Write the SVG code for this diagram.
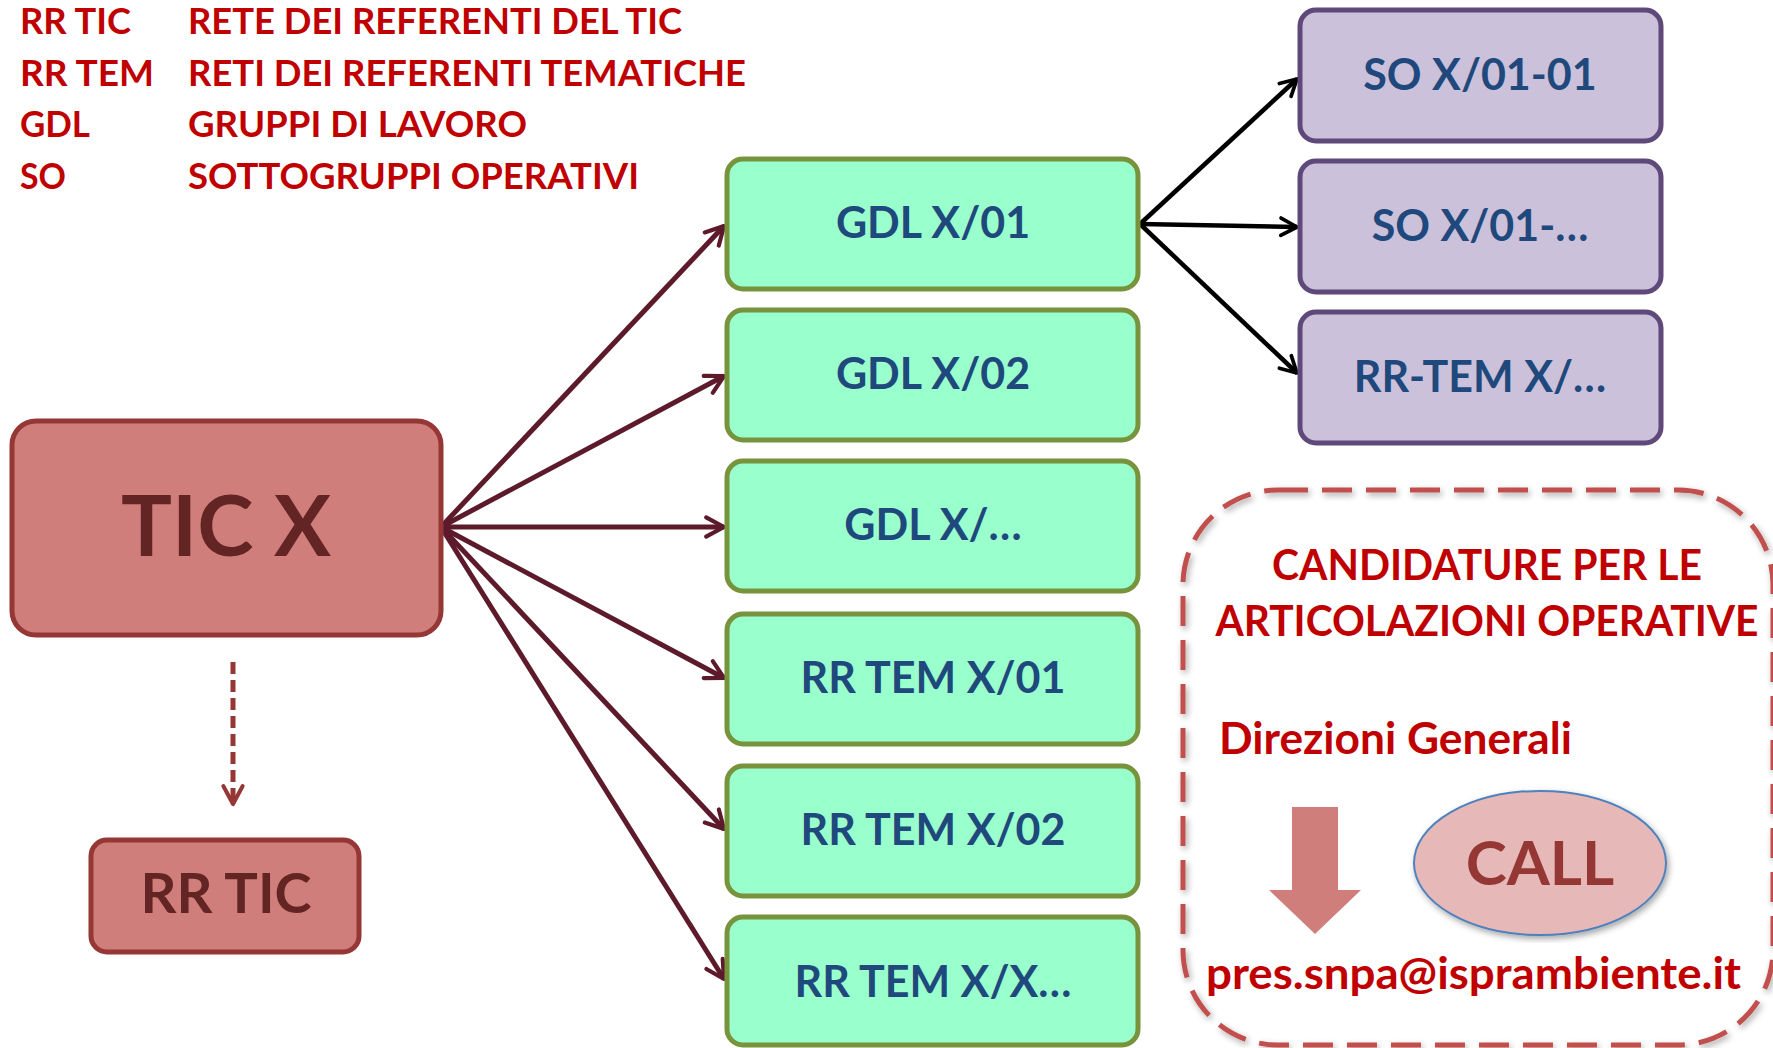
<svg xmlns="http://www.w3.org/2000/svg" width="1773" height="1048" viewBox="0 0 1773 1048">
<style>
text{font-family:Lato,"Open Sans","Liberation Sans",sans-serif;font-weight:bold}
.leg{fill:#C00000;font-size:37px}
.g rect{fill:#99FFCC;stroke:#77933C;stroke-width:5}
.p rect{fill:#CCC1DA;stroke:#5F497A;stroke-width:5}
.g text,.p text{fill:#1F497D;font-size:43px;text-anchor:middle}
.r rect{fill:#D07E7B;stroke:#953735;stroke-width:5}
.r text{fill:#632523;text-anchor:middle}
.red{fill:#C00000}
.mr{stroke:#5C1A2B;stroke-width:5;fill:none;marker-end:url(#am)}
.bk{stroke:#000;stroke-width:4.5;fill:none;marker-end:url(#ab)}
</style>
<defs>
<marker id="am" viewBox="0 0 20 20" refX="17" refY="10" markerWidth="5.5" markerHeight="5.5" markerUnits="strokeWidth" orient="auto">
<path d="M4,3 L17,10 L4,17" fill="none" stroke="#5C1A2B" stroke-width="3" stroke-linecap="round" stroke-linejoin="round"/>
</marker>
<marker id="ab" viewBox="0 0 20 20" refX="17" refY="10" markerWidth="5.5" markerHeight="5.5" markerUnits="strokeWidth" orient="auto">
<path d="M4,3 L17,10 L4,17" fill="none" stroke="#000" stroke-width="3" stroke-linecap="round" stroke-linejoin="round"/>
</marker>
<marker id="ad" viewBox="0 0 20 20" refX="17" refY="10" markerWidth="5.5" markerHeight="5.5" markerUnits="strokeWidth" orient="auto">
<path d="M4,3 L17,10 L4,17" fill="none" stroke="#953735" stroke-width="3" stroke-linecap="round" stroke-linejoin="round"/>
</marker>
<filter id="sh" x="-5%" y="-5%" width="110%" height="110%">
<feGaussianBlur in="SourceAlpha" stdDeviation="3"/>
<feOffset dx="2" dy="3" result="b"/>
<feFlood flood-color="#000" flood-opacity="0.35"/>
<feComposite in2="b" operator="in"/>
<feMerge><feMergeNode/><feMergeNode in="SourceGraphic"/></feMerge>
</filter>
</defs>

<g id="legend">
<text class="leg" x="20" y="34" textLength="111" lengthAdjust="spacingAndGlyphs">RR TIC</text>
<text class="leg" x="188" y="34" textLength="494" lengthAdjust="spacingAndGlyphs">RETE DEI REFERENTI DEL TIC</text>
<text class="leg" x="20" y="86" textLength="134" lengthAdjust="spacingAndGlyphs">RR TEM</text>
<text class="leg" x="188" y="86" textLength="558" lengthAdjust="spacingAndGlyphs">RETI DEI REFERENTI TEMATICHE</text>
<text class="leg" x="20" y="137" textLength="70" lengthAdjust="spacingAndGlyphs">GDL</text>
<text class="leg" x="188" y="137" textLength="339" lengthAdjust="spacingAndGlyphs">GRUPPI DI LAVORO</text>
<text class="leg" x="20" y="189" textLength="46" lengthAdjust="spacingAndGlyphs">SO</text>
<text class="leg" x="188" y="189" textLength="451" lengthAdjust="spacingAndGlyphs">SOTTOGRUPPI OPERATIVI</text>
</g>

<g id="connectors">
<path class="mr" d="M441,527 L724,226"/>
<path class="mr" d="M441,527 L724,376"/>
<path class="mr" d="M441,527 L724,527"/>
<path class="mr" d="M441,527 L724,678"/>
<path class="mr" d="M441,527 L724,829"/>
<path class="mr" d="M441,527 L724,979"/>
<path class="bk" d="M1140,224 L1297,79"/>
<path class="bk" d="M1140,224 L1297,227"/>
<path class="bk" d="M1140,224 L1297,373"/>
<path d="M233,662 L233,804" stroke="#953735" stroke-width="5" stroke-dasharray="12,6" fill="none" marker-end="url(#ad)"/>
</g>

<g id="tic-x" class="r">
<rect x="12" y="421" width="429" height="214" rx="24"/>
<text x="226" y="556" font-size="85">TIC X</text>
</g>
<g id="rr-tic" class="r">
<rect x="91" y="840" width="268" height="112" rx="16"/>
<text x="226" y="913" font-size="56">RR TIC</text>
</g>

<g id="gdl-x-01" class="g"><rect x="727" y="159" width="411" height="130" rx="16"/><text x="933" y="238">GDL X/01</text></g>
<g id="gdl-x-02" class="g"><rect x="727" y="310" width="411" height="130" rx="16"/><text x="933" y="389">GDL X/02</text></g>
<g id="gdl-x-etc" class="g"><rect x="727" y="461" width="411" height="130" rx="16"/><text x="933" y="540">GDL X/…</text></g>
<g id="rr-tem-x-01" class="g"><rect x="727" y="614" width="411" height="130" rx="16"/><text x="933" y="693">RR TEM X/01</text></g>
<g id="rr-tem-x-02" class="g"><rect x="727" y="766" width="411" height="130" rx="16"/><text x="933" y="845">RR TEM X/02</text></g>
<g id="rr-tem-x-x" class="g"><rect x="727" y="917" width="411" height="128" rx="16"/><text x="933" y="997">RR TEM X/X…</text></g>

<g id="so-x-01-01" class="p"><rect x="1300" y="10" width="361" height="131" rx="16"/><text x="1480" y="90">SO X/01-01</text></g>
<g id="so-x-01-etc" class="p"><rect x="1300" y="161" width="361" height="131" rx="16"/><text x="1480" y="241">SO X/01-…</text></g>
<g id="rr-tem-x-so" class="p"><rect x="1300" y="312" width="361" height="131" rx="16"/><text x="1480" y="392">RR-TEM X/…</text></g>

<g id="call-box">
<rect x="1183" y="490" width="590" height="555" rx="95" fill="none" stroke="#C0504D" stroke-width="5" stroke-dasharray="30,14" filter="url(#sh)"/>
<text class="red" x="1487" y="580" font-size="42" text-anchor="middle" textLength="430" lengthAdjust="spacingAndGlyphs">CANDIDATURE PER LE</text>
<text class="red" x="1487" y="636" font-size="42" text-anchor="middle" textLength="543" lengthAdjust="spacingAndGlyphs">ARTICOLAZIONI OPERATIVE</text>
<text class="red" x="1219" y="754" font-size="43" textLength="353" lengthAdjust="spacingAndGlyphs">Direzioni Generali</text>
<path d="M1292,807 L1338,807 L1338,890 L1361,890 L1315,934 L1269,890 L1292,890 Z" fill="#D07E7B"/>
<ellipse cx="1540" cy="863" rx="126" ry="72" fill="#E6B9B8" stroke="#4F81BD" stroke-width="2" filter="url(#sh)"/>
<text x="1540" y="885" font-size="62" fill="#953735" text-anchor="middle">CALL</text>
<text class="red" x="1206" y="989" font-size="44" textLength="535" lengthAdjust="spacingAndGlyphs">pres.snpa@isprambiente.it</text>
</g>
</svg>
